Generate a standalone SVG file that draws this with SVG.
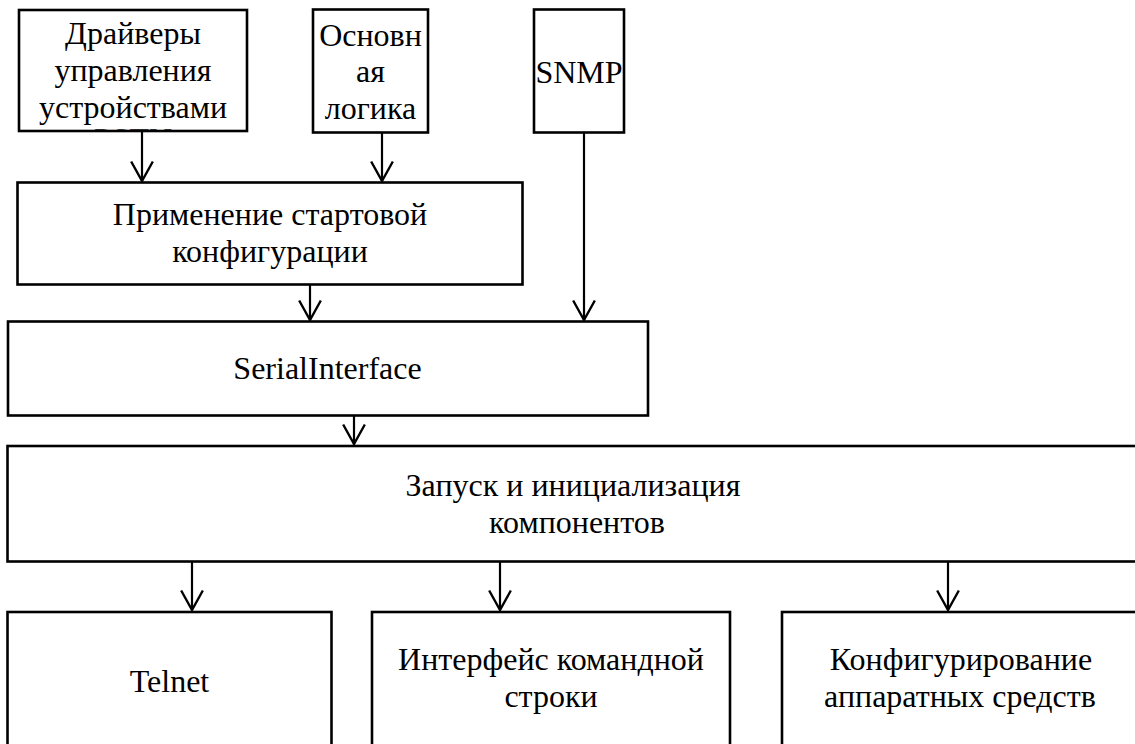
<svg xmlns="http://www.w3.org/2000/svg" width="1135" height="744" viewBox="0 0 1135 744">
  <style>
    .box { fill: #ffffff; stroke: #000000; stroke-width: 2.6; }
    .t { font-family: "Liberation Serif", "Times New Roman", serif; font-size: 32px; fill: #000000; text-anchor: middle; }
    .c { fill: none; stroke: #000000; stroke-width: 2.2; marker-end: url(#arr); }
  </style>
  <defs>
    <marker id="arr" markerUnits="userSpaceOnUse" markerWidth="24" markerHeight="26" viewBox="-20 -12 22 24" refX="0" refY="0" orient="auto">
      <path d="M -18 -10 L 0 0 L -18 10" fill="none" stroke="#000000" stroke-width="2.2"/>
    </marker>
    <clipPath id="clipDrivers">
      <rect x="20.3" y="11.3" width="225.4" height="118.4"/>
    </clipPath>
  </defs>
  <rect width="1135" height="744" fill="#ffffff"/>

  <g id="connectors">
    <line class="c" x1="142" y1="131" x2="142" y2="181"/>
    <line class="c" x1="382" y1="133" x2="382" y2="181"/>
    <line class="c" x1="584" y1="133" x2="584" y2="320"/>
    <line class="c" x1="310" y1="284" x2="310" y2="320"/>
    <line class="c" x1="354" y1="415" x2="354" y2="444"/>
    <line class="c" x1="192" y1="562" x2="192" y2="610"/>
    <line class="c" x1="500" y1="562" x2="500" y2="610"/>
    <line class="c" x1="948" y1="562" x2="948" y2="610"/>
  </g>

  <g id="node-drivers">
    <rect class="box" x="19" y="10" width="228" height="121"/>
    <text class="t" x="133" y="44">Драйверы</text>
    <text class="t" x="133" y="81">управления</text>
    <text class="t" x="133" y="118">устройствами</text>
    <text class="t" x="133" y="150" clip-path="url(#clipDrivers)">PSTN</text>
  </g>

  <g id="node-logic">
    <rect class="box" x="313" y="9.5" width="115" height="123"/>
    <text class="t" x="370.5" y="46">Основн</text>
    <text class="t" x="370.5" y="82">ая</text>
    <text class="t" x="370.5" y="118.5">логика</text>
  </g>

  <g id="node-snmp">
    <rect class="box" x="534" y="9.5" width="90" height="123"/>
    <text class="t" x="579" y="83">SNMP</text>
  </g>

  <g id="node-apply">
    <rect class="box" x="17.5" y="182.5" width="505" height="102"/>
    <text class="t" x="270" y="225">Применение стартовой</text>
    <text class="t" x="270" y="261.5">конфигурации</text>
  </g>

  <g id="node-serial">
    <rect class="box" x="8" y="321.5" width="640" height="94"/>
    <text class="t" x="327.5" y="378.5">SerialInterface</text>
  </g>

  <g id="node-launch">
    <rect class="box" x="7.5" y="446" width="1140" height="115.5"/>
    <text class="t" x="573" y="496">Запуск и инициализация</text>
    <text class="t" x="577" y="533">компонентов</text>
  </g>

  <g id="node-telnet">
    <rect class="box" x="7.5" y="612" width="324" height="150"/>
    <text class="t" x="169.5" y="692">Telnet</text>
  </g>

  <g id="node-cli">
    <rect class="box" x="372" y="612" width="358" height="150"/>
    <text class="t" x="551" y="670">Интерфейс командной</text>
    <text class="t" x="551" y="707">строки</text>
  </g>

  <g id="node-hw">
    <rect class="box" x="782" y="612" width="360" height="150"/>
    <text class="t" x="961" y="670">Конфигурирование</text>
    <text class="t" x="960" y="707">аппаратных средств</text>
  </g>
</svg>
